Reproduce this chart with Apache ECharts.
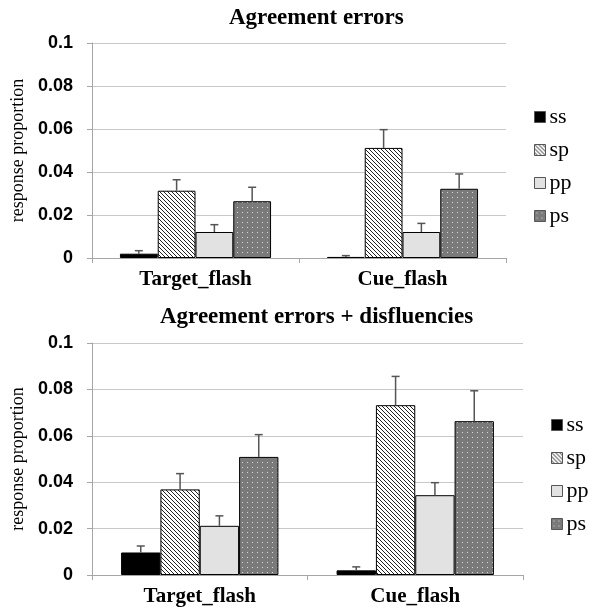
<!DOCTYPE html>
<html>
<head>
<meta charset="utf-8">
<script src="https://cdn.jsdelivr.net/npm/echarts@6/dist/echarts.min.js"></script>
<style>html,body{margin:0;padding:0;background:#fff;}#c{width:589px;height:613px;}</style>
</head>
<body>
<div id="c"></div>
<script>
// ---- data ----
const categories = ['Target_flash', 'Cue_flash'];
const seriesNames = ['ss', 'sp', 'pp', 'ps'];
const yTicks = [0, 0.02, 0.04, 0.06, 0.08, 0.1];

// Panel 1: Agreement errors
const topSS = [0.0020, 0.0005];
const topSP = [0.0313, 0.0512];
const topPP = [0.0121, 0.0121];
const topPS = [0.0264, 0.0322];
const topErrSS = [0.0014, 0.0006];
const topErrSP = [0.0051, 0.0085];
const topErrPP = [0.0034, 0.0040];
const topErrPS = [0.0065, 0.0069];

// Panel 2: Agreement errors + disfluencies
const botSS = [0.0097, 0.0020];
const botSP = [0.0369, 0.0732];
const botPP = [0.0212, 0.0344];
const botPS = [0.0509, 0.0663];
const botErrSS = [0.0028, 0.0015];
const botErrSP = [0.0068, 0.0124];
const botErrPP = [0.0043, 0.0054];
const botErrPS = [0.0096, 0.0131];

// ---- patterns ----
function hatchPattern() {
  const c = document.createElement('canvas');
  c.width = 4; c.height = 4;
  const g = c.getContext('2d');
  g.fillStyle = '#ffffff'; g.fillRect(0, 0, 4, 4);
  g.strokeStyle = '#222'; g.lineWidth = 1;
  g.beginPath();
  g.moveTo(-1, -1); g.lineTo(5, 5);
  g.moveTo(-1, 3); g.lineTo(1, 5);
  g.moveTo(3, -1); g.lineTo(5, 1);
  g.stroke();
  return { image: c, repeat: 'repeat' };
}
function dotPattern() {
  const c = document.createElement('canvas');
  c.width = 5; c.height = 5;
  const g = c.getContext('2d');
  g.fillStyle = '#7a7a7a'; g.fillRect(0, 0, 5, 5);
  g.fillStyle = '#d8d8d8'; g.fillRect(2, 2, 1, 1);
  return { image: c, repeat: 'repeat' };
}
const fills = ['#000000', hatchPattern(), '#e2e2e2', dotPattern()];

const BAR_FRAC = 0.73;

function errSeries(gridIdx, vals, errs) {
  const data = [];
  vals.forEach((arr, si) => arr.forEach((v, ci) => data.push([ci, si, v, v + errs[si][ci]])));
  return {
    type: 'custom', xAxisIndex: gridIdx, yAxisIndex: gridIdx, z: 5,
    encode: { x: 0, y: [2, 3] },
    data: data,
    renderItem: function (params, api) {
      const ci = api.value(0), si = api.value(1), v = api.value(2), e = api.value(3);
      const base = api.coord([ci, v]);
      const top = api.coord([ci, e]);
      const cw = api.size([1, 0])[0];
      const bw = cw * BAR_FRAC / 4;
      const x = base[0] + (si - 1.5) * bw;
      const st = { stroke: '#555', lineWidth: 1.5 };
      return {
        type: 'group', children: [
          { type: 'line', shape: { x1: x, y1: base[1], x2: x, y2: top[1] }, style: st },
          { type: 'line', shape: { x1: x - 4, y1: top[1], x2: x + 4, y2: top[1] }, style: st }
        ]
      };
    }
  };
}

function barSeries(gridIdx, vals) {
  return vals.map((arr, si) => ({
    name: seriesNames[si], type: 'bar', xAxisIndex: gridIdx, yAxisIndex: gridIdx,
    data: arr, barGap: '0%', barCategoryGap: ((1 - BAR_FRAC) * 100) + '%',
    itemStyle: { color: fills[si], borderColor: '#000', borderWidth: 1 }
  }));
}

const serifFont = 'Liberation Serif';
function xAxis(gi) {
  return {
    type: 'category', gridIndex: gi, data: categories,
    axisLine: { lineStyle: { color: '#a6a6a6', width: 1 } },
    axisTick: { show: true, length: 5, lineStyle: { color: '#a6a6a6' } },
    axisLabel: { color: '#000', fontFamily: serifFont, fontWeight: 'bold', fontSize: 21, margin: 11 }
  };
}
function yAxis(gi) {
  return {
    type: 'value', gridIndex: gi, min: 0, max: 0.1, interval: 0.02,
    name: 'response proportion', nameLocation: 'middle', nameGap: 64,
    nameTextStyle: { color: '#000', fontFamily: serifFont, fontSize: 18 },
    axisLine: { show: true, lineStyle: { color: '#a6a6a6' } },
    axisTick: { show: true, length: 5, lineStyle: { color: '#a6a6a6' } },
    splitLine: { lineStyle: { color: '#c8c8c8', width: 1 } },
    axisLabel: {
      color: '#000', fontFamily: 'Liberation Sans', fontWeight: 'bold', fontSize: 18, margin: 19,
      formatter: function (v) { const t = yTicks.find(k => Math.abs(k - v) < 1e-9); return String(t !== undefined ? t : v); }
    }
  };
}
function legend(left, top) {
  return {
    orient: 'vertical', left: left, top: top, data: seriesNames, icon: 'rect',
    itemWidth: 11, itemHeight: 11, itemGap: 11, selectedMode: false,
    itemStyle: { borderColor: '#555', borderWidth: 1 },
    textStyle: { color: '#000', fontFamily: serifFont, fontSize: 22, lineHeight: 21, padding: [0, 0, 0, -1] }
  };
}

const option = {
  animation: false,
  backgroundColor: '#fff',
  title: [
    { text: 'Agreement errors', left: 224, top: 2, textStyle: { fontFamily: serifFont, fontWeight: 'bold', fontSize: 23, color: '#000' } },
    { text: 'Agreement errors + disfluencies', left: 155, top: 301, textStyle: { fontFamily: serifFont, fontWeight: 'bold', fontSize: 23, color: '#000' } }
  ],
  legend: [legend(529, 101), legend(546, 409)],
  grid: [
    { left: 92, top: 43, width: 414, height: 215 },
    { left: 92, top: 343, width: 431, height: 232 }
  ],
  xAxis: [xAxis(0), xAxis(1)],
  yAxis: [yAxis(0), yAxis(1)],
  series: [].concat(
    barSeries(0, [topSS, topSP, topPP, topPS]),
    [errSeries(0, [topSS, topSP, topPP, topPS], [topErrSS, topErrSP, topErrPP, topErrPS])],
    barSeries(1, [botSS, botSP, botPP, botPS]),
    [errSeries(1, [botSS, botSP, botPP, botPS], [botErrSS, botErrSP, botErrPP, botErrPS])]
  )
};
const chart = echarts.init(document.getElementById('c'), null, { renderer: 'canvas' });
chart.setOption(option);
</script>
</body>
</html>
